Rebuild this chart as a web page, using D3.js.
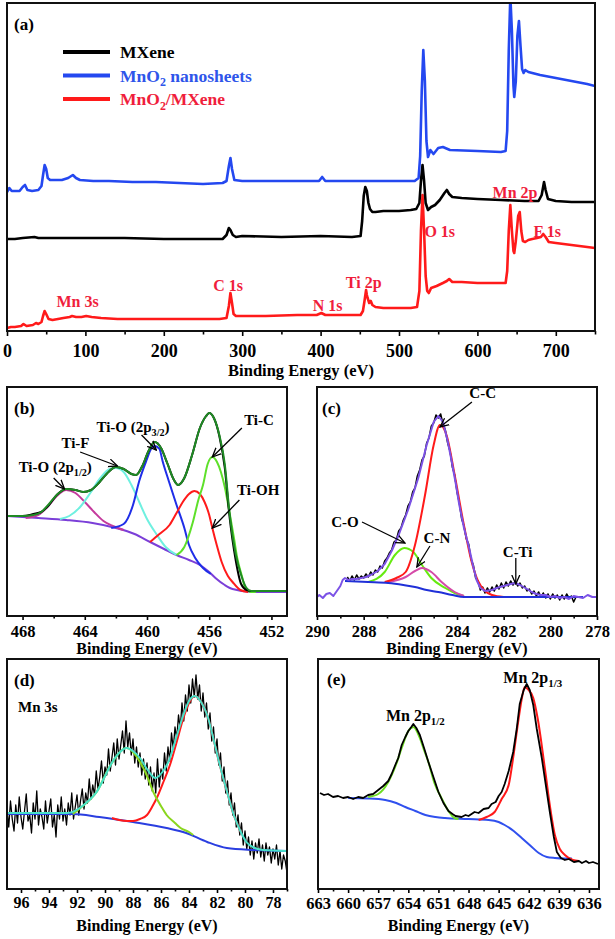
<!DOCTYPE html>
<html lang="en">
<head>
<meta charset="UTF-8" />
<title>XPS spectra</title>
<style>
  body { margin: 0; background: #fff; }
  svg { display: block; }
  text { font-family: "Liberation Serif", "Times New Roman", serif; font-weight: bold; }
</style>
</head>
<body>
<script src="https://cdn.jsdelivr.net/npm/d3@7"></script>
<script>
// ---- (a) survey spectra : [binding energy eV, intensity a.u.]
const surveyMXene = [[0,92],[10,92],[20,93],[35,94],[40,93],[60,93],[100,93],[150,93],[200,92],[250,92],[275,92],[280,96],[283,103],[285,101],[288,96],[292,94],[300,95],[350,94],[400,95],[440,94],[451,95],[453,110],[455,135],[457,144],[459,140],[461,128],[463,122],[466,119],[470,119],[480,120],[500,120],[515,121],[522,122],[526,128],[528,150],[530,166],[532,150],[534,128],[537,121],[541,124],[546,126],[552,131],[558,138],[561,141],[564,137],[568,134],[580,133],[600,132],[630,131],[660,130],[678,130],[682,136],[685,149],[687,141],[690,132],[700,130],[720,129],[750,129]];
const surveyMnO2 = [[0,139],[3,143],[6,140],[10,140],[16,140],[20,144],[23,146],[26,141],[32,140],[40,141],[44,145],[46,156],[48,166],[50,162],[52,153],[55,151],[60,151],[70,151],[78,153],[84,156],[88,153],[93,151],[110,150],[130,150],[160,149],[190,149],[220,148],[250,147],[275,148],[280,150],[283,165],[285,173],[287,162],[290,151],[300,150],[330,150],[370,150],[398,150],[402,154],[406,150],[450,150],[500,150],[520,150],[525,153],[527,175],[529,240],[531,281],[533,250],[535,190],[537,174],[540,181],[544,177],[550,183],[556,184],[565,181],[600,180],[630,179],[636,180],[638,200],[640,280],[642,335],[644,300],[646,245],[647,234],[649,250],[651,295],[653,310],[655,285],[657,262],[659,258],[661,261],[665,259],[680,256],[700,253],[720,250],[740,247],[750,245]];
const surveyComposite = [[0,3],[5,4],[10,4],[18,5],[21,7],[25,5],[33,6],[37,8],[40,7],[44,9],[46,15],[48,20],[50,17],[53,12],[58,11],[65,12],[72,13],[80,14],[83,15],[88,14],[95,14],[101,15],[108,14],[120,13],[141,12],[180,12],[220,12],[250,12],[271,12],[280,13],[283,25],[285,38],[287,28],[289,17],[292,15],[300,15],[330,15],[370,16],[395,16],[401,18],[406,16],[430,16],[451,16],[454,20],[456,30],[458,41],[459,36],[460,33],[462,28],[464,30],[466,26],[470,24],[480,23],[500,23],[515,23],[523,24],[526,40],[528,100],[530,136],[532,100],[534,55],[536,40],[538,38],[541,43],[548,45],[556,48],[561,50],[564,52],[568,49],[580,49],[600,48],[620,48],[636,48],[638,60],[640,100],[642,126],[644,100],[646,80],[647,78],[649,90],[652,115],[654,119],[656,100],[658,90],[661,89],[665,91],[670,92],[676,93],[681,94],[684,97],[687,94],[691,89],[700,88],[720,86],[740,84],[750,83]];
const surveyTicks = [0,100,200,300,400,500,600,700];
const surveyMinor = [50,150,250,350,450,550,650,750];
const surveyPeaks = [
  {text: "Mn 3s", at: [90, 30]}, {text: "C 1s", at: [282, 46]}, {text: "N 1s", at: [409, 26]},
  {text: "Ti 2p", at: [455, 49]}, {text: "O 1s", at: [552, 100]}, {text: "Mn 2p", at: [648, 139]},
  {text: "F 1s", at: [689, 100]}
];

// ---- (b) Ti 2p
const ti2pData = [[469,100],[468,100],[467.3,102],[466.8,104],[466.3,111],[465.8,121],[465.2,127],[464.6,126],[464.1,124],[463.6,126],[463.1,133],[462.6,142],[462.0,149],[461.5,147],[461.0,142],[460.7,141],[460.3,150],[459.9,165],[459.5,174],[459.1,168],[458.7,153],[458.3,137],[458.0,131],[457.6,138],[457.1,161],[456.6,188],[456.2,200],[456.0,203],[455.7,198],[455.35,180],[455.0,148],[454.7,100],[454.3,56],[453.95,32],[453.6,26],[453.3,25],[452.5,25],[451,25]];
const ti2pEnvelope = [[469,100],[468,100],[467.3,101],[466.8,104],[466.3,112],[465.8,121],[465.2,127],[464.6,126],[464.1,124],[463.6,126],[463.1,133],[462.6,142],[462.0,149],[461.5,147],[461.0,142],[460.7,141],[460.3,150],[459.9,165],[459.5,174],[459.1,168],[458.7,153],[458.3,137],[458.0,131],[457.6,138],[457.1,161],[456.6,188],[456.2,200],[456.0,203],[455.7,198],[455.35,181],[455.0,152],[454.7,104],[454.3,62],[453.95,41],[453.6,28],[453.3,25],[452.5,25],[451,25]];
const ti2pBackground = [[469,100],[467,98],[465.2,96],[463.5,93],[462.0,88],[460.8,82],[459.8,74],[458.9,67],[458.1,61],[457.3,56],[456.6,51],[456.0,44],[455.6,38],[455.0,31],[454.5,27],[453.2,24],[451,24]];
const tiO12 = [[467.8,98],[467.0,101],[466.4,109],[465.8,120],[465.2,126],[464.6,123],[464.0,114],[463.4,104],[462.8,95],[462.2,90],[461.5,86]];
const tiF = [[465.6,97],[465.0,100],[464.3,109],[463.6,124],[463.0,138],[462.4,147],[462.0,148],[461.5,144],[461.0,131],[460.5,114],[460.0,97],[459.4,82],[458.8,69],[458.1,61]];
const tiO32 = [[462.3,88],[461.5,92],[460.9,111],[460.5,135],[460.05,155],[459.7,168],[459.5,170],[459.2,167],[459.0,155],[458.6,135],[458.1,111],[457.6,88],[457.3,71],[456.9,58],[456.4,48],[455.9,42]];
const tiOH = [[459.8,74],[459.2,82],[458.55,91],[458.1,103],[457.7,114],[457.3,122],[456.95,125],[456.6,122],[456.3,114],[456.0,101],[455.8,88],[455.5,70],[455.2,54],[454.8,40],[454.5,34],[454.0,26],[453.5,24]];
const tiC = [[458.1,61],[457.6,69],[457.05,94],[456.7,116],[456.4,131],[456.1,152],[455.8,159],[455.5,154],[455.25,144],[455.0,129],[454.7,104],[454.4,77],[454.2,58],[453.9,40],[453.7,29],[453.3,24],[453.0,24]];
const ti2pTicks = [468,464,460,456,452];
const ti2pMinor = [466,462,458,454];
const ti2pLabels = [
  {parts: [["Ti-O (2p"],["1/2","sub"],[")"]], at: [465.9,149], from: [466.0,138], to: [465.3,127]},
  {parts: [["Ti-F"]], at: [464.6,173], from: [464.3,164], to: [461.9,150]},
  {parts: [["Ti-O (2p"],["3/2","sub"],[")"]], at: [460.9,189], from: [460.35,181], to: [459.4,166]},
  {parts: [["Ti-C"]], at: [452.8,196], from: [453.9,188], to: [455.8,159]},
  {parts: [["Ti-OH"]], at: [452.85,126], from: [454.06,116], to: [455.8,88]}
];

// ---- (c) C 1s
const c1sStart = 288.7, c1sStep = -0.1;
const c1sCounts = [39,35,40,36,41,37,40,38,42,39,44,41,46,44,50,48,55,58,63,66,74,76,85,88,96,101,110,114,124,128,140,146,156,160,173,178,190,193,201,198,202,192,186,173,165,149,141,124,113,97,90,77,72,57,51,38,35,26,29,23,28,24,29,25,31,27,33,28,34,30,35,31,35,30,33,28,30,25,27,22,25,20,24,19,23,18,22,17,22,18,21,16,21,17,22,18,20,14,19];
const c1sEnvelope = [[290,19],[289.9,21],[289.75,18],[289.6,22],[289.45,23],[289.3,20],[289.15,25],[289.0,30],[288.9,36],[288.8,38],[288.65,36],[288.5,37],[288.3,37],[288.1,38],[287.9,39],[287.7,41],[287.4,45],[287.1,52],[286.8,65],[286.5,81],[286.1,106],[285.66,138],[285.3,171],[285.0,194],[284.8,200],[284.6,194],[284.4,175],[284.23,155],[284.05,132],[283.9,111],[283.7,88],[283.5,70],[283.3,49],[283.16,36],[283.0,28],[282.8,25],[282.5,26],[282.3,28],[282.0,30],[281.7,32],[281.5,33],[281.3,31],[281.0,27],[280.8,24],[280.6,22],[280.4,21],[280.2,21],[280.0,19],[279.8,20],[279.6,18],[279.4,19],[279.2,17],[279.0,20],[278.8,19],[278.6,18],[278.4,21],[278.2,19],[278,19]];
const c1sBackground = [[288.8,35],[287.8,34],[286.95,33],[286.3,31],[285.8,29],[285.3,26],[284.8,24],[284.2,21],[283.7,19],[283.0,19],[278.6,19]];
const cC = [[287.1,34],[286.6,38],[286.2,44],[285.8,71],[285.37,121],[285.0,171],[284.73,191],[284.45,181],[284.1,141],[283.73,94],[283.37,54],[283.1,35],[282.8,25],[282.5,21],[282.0,19]];
const cO = [[287.8,34],[287.1,44],[286.66,61],[286.26,68],[285.87,64],[285.5,51],[285.1,38],[284.5,28],[284.1,23],[283.7,20]];
const cN = [[286.95,34],[286.2,39],[285.8,45],[285.5,48],[285.1,44],[284.66,34],[284.1,24],[283.7,20]];
const c1sTicks = [290,288,286,284,282,280,278];
const c1sMinor = [289,287,285,283,281,279];
const c1sLabels = [
  {parts: [["C-C"]], at: [282.9,223], from: [283.36,214], to: [284.73,189]},
  {parts: [["C-O"]], at: [288.8,94], from: [288.07,94], to: [286.23,73]},
  {parts: [["C-N"]], at: [284.86,78], from: [285.16,70], to: [285.72,49]},
  {parts: [["C-Ti"]], at: [281.4,64], from: [281.48,58], to: [281.48,32]}
];

// ---- (d) Mn 3s
const mn3sStart = 97, mn3sStep = -0.125;
const mn3sCounts = [80,62,88,70,58,84,66,92,72,60,78,95,68,74,56,86,70,98,64,80,72,60,88,66,78,90,62,74,52,84,70,92,68,80,64,86,74,96,70,82,94,74,88,100,80,96,86,110,90,104,94,118,100,112,128,106,122,114,140,118,132,146,124,150,130,144,158,136,168,142,156,134,150,126,142,122,136,114,130,110,126,104,122,98,116,96,130,102,120,110,136,118,142,128,156,140,162,150,174,160,186,168,194,178,204,186,210,192,214,190,204,178,196,172,186,160,176,148,162,136,150,124,136,108,122,96,108,84,96,74,86,62,74,54,66,44,58,40,52,34,48,30,46,36,50,32,44,28,46,34,42,26,40,30,44,24,38,20,34,28,16];
const mn3sEnvelope = [[97,76],[94,76],[92.7,76],[91.8,81],[91.2,88],[90.6,97],[90.1,110],[89.6,124],[89.0,136],[88.45,141],[88.0,138],[87.5,131],[87.0,120],[86.4,111],[85.9,117],[85.36,131],[84.9,152],[84.4,174],[84.0,188],[83.57,193],[83.1,186],[82.7,174],[82.2,147],[81.8,124],[81.3,98],[80.8,74],[80.3,57],[79.9,47],[79.3,41],[78.7,39],[77,38]];
const mn3sBackground = [[97,75],[92.3,75],[90.4,72],[88,67],[85.6,61],[84.2,56],[82.7,47],[81.3,41],[79.4,39],[77,38]];
const mn3sHigh = [[92.3,75],[91.5,84],[90.6,97],[89.6,124],[88.45,141],[87.5,127],[87.0,113],[86.55,97],[86.0,83],[85.6,74],[85.0,66],[84.6,61],[84.0,57],[83.7,54]];
const mn3sLow = [[89.5,71],[89.0,69],[88.4,68],[88.0,68],[87.5,70],[87.0,74],[86.6,83],[86.3,91],[85.8,108],[85.36,124],[84.9,146],[84.4,171],[84.0,186],[83.57,193],[83.1,186],[82.7,174],[82.2,147],[81.8,124],[81.3,98],[80.8,74],[80.3,57]];
const mn3sTicks = [96,94,92,90,88,86,84,82,80,78];
const mn3sMinor = [95,93,91,89,87,85,83,81,79,77];

// ---- (e) Mn 2p
const mn2pData = [[662.8,96],[662.4,94],[662,95],[661.5,92],[661,93],[660.5,91],[660,92],[659.5,90],[659,92],[658.5,91],[658,94],[657.5,95],[657,99],[656.5,103],[656,108],[655.66,115],[655.3,124],[655,131],[654.66,144],[654.3,152],[654,158],[653.7,162],[653.5,165],[653.2,161],[652.85,154],[652.4,140],[652,127],[651.5,112],[651,97],[650.5,86],[650,78],[649.6,75],[649.3,73],[648.7,72],[648.3,74],[648,73],[647.4,77],[647,76],[646.5,80],[646,81],[645.7,85],[645.3,87],[645,93],[644.7,97],[644.4,105],[644,118],[643.55,137],[643.2,160],[642.9,185],[642.5,199],[642.2,205],[641.9,199],[641.55,184],[641.2,160],[640.7,131],[640.3,104],[639.9,77],[639.5,52],[639.2,37],[638.8,31],[638.4,29],[638,30],[637.5,27],[637,28],[636.7,26],[636.3,28],[636,26],[635.6,27],[635.1,25]];
const mn2pBackground = [[660,91],[658,90.5],[656.3,89],[655.2,86],[654.3,82],[653.3,78],[652.3,74],[651.3,72],[650.35,71],[648,70],[646,69],[645,67],[644.4,64],[643.5,58],[642.7,51],[641.8,43],[641,36],[640.2,32],[639.4,31],[638.5,30.5],[637.7,30.5]];
const mn2p12 = [[658,92],[657,95],[656,107],[655.2,125],[654.66,141],[654.0,158],[653.5,162],[652.85,151],[652.4,138],[652,127],[651.4,106],[650.7,91],[650,78],[649.4,71],[649,70]];
const mn2p32 = [[647,69],[646.2,72],[645.4,77],[644.7,90],[644,104],[643.5,135],[643,171],[642.7,190],[642.4,202],[642.1,200],[641.55,191],[641.1,170],[640.4,121],[639.8,77],[639.4,54],[638.9,40],[638.4,34],[637.6,29],[637,28]];
const mn2pTicks = [663,660,657,654,651,648,645,642,639,636];
const mn2pMinor = [661.5,658.5,655.5,652.5,649.5,646.5,643.5,640.5,637.5];
const mn2pLabels = [
  {parts: [["Mn 2p"],["1/2","sub"]], at: [653.3,174]},
  {parts: [["Mn 2p"],["1/3","sub"]], at: [641.6,212]}
];

// ---------------------------------------------------------------
const FONT = '"Liberation Serif", "Times New Roman", serif';
const svg = d3.select("body").append("svg").attr("width", 615).attr("height", 939)
  .attr("font-family", FONT).attr("font-weight", "bold");

const defs = svg.append("defs");
defs.append("marker").attr("id", "arrow")
  .attr("viewBox", "0 0 10 10").attr("refX", 9).attr("refY", 5)
  .attr("markerWidth", 10).attr("markerHeight", 10)
  .attr("markerUnits", "userSpaceOnUse").attr("orient", "auto")
  .append("path").attr("d", "M0,1 L9,5 L0,9").attr("fill", "none")
  .attr("stroke", "#000").attr("stroke-width", 1.3);

function makePanel(p) {
  const x = d3.scaleLinear().domain(p.domain).range([p.left, p.right]);
  const y = d3.scaleLinear().domain([0, p.bottom - p.top]).range([p.bottom, p.top]);
  const g = svg.append("g");
  defs.append("clipPath").attr("id", "clip-" + p.id).append("rect")
    .attr("x", p.left).attr("y", p.top)
    .attr("width", p.right - p.left).attr("height", p.bottom - p.top);
  const plot = g.append("g").attr("clip-path", `url(#clip-${p.id})`);

  g.append("g").attr("transform", `translate(0,${p.bottom})`)
    .call(d3.axisBottom(x).tickValues(p.minor).tickSize(p.tick - 1.5).tickFormat(""));
  const major = g.append("g").attr("transform", `translate(0,${p.bottom})`)
    .call(d3.axisBottom(x).tickValues(p.major).tickSize(p.tick).tickPadding(p.pad).tickFormat(d3.format("d")));
  g.selectAll(".domain").remove();
  g.selectAll(".tick line").attr("stroke", "#000").attr("stroke-width", 1.6);
  g.selectAll("g").attr("font-family", FONT);
  major.attr("font-size", p.fs);
  major.selectAll("text").attr("fill", "#000").attr("font-family", FONT)
    .attr("font-weight", "bold").attr("font-size", p.fs);

  g.append("rect").attr("x", p.left).attr("y", p.top)
    .attr("width", p.right - p.left).attr("height", p.bottom - p.top)
    .attr("fill", "none").attr("stroke", "#111").attr("stroke-width", 2);

  g.append("text").attr("x", (p.left + p.right) / 2).attr("y", p.titleY)
    .attr("text-anchor", "middle").attr("font-size", p.tfs).text("Binding Energy (eV)");
  g.append("text").attr("x", p.tagX).attr("y", p.tagY)
    .attr("font-size", 17).text(p.tag);
  return {x, y, plot, g};
}

function drawLine(P, data, color, width, curve) {
  P.plot.append("path").datum(data)
    .attr("fill", "none").attr("stroke", color).attr("stroke-width", width)
    .attr("stroke-linejoin", "round")
    .attr("d", d3.line().x(d => P.x(d[0])).y(d => P.y(d[1])).curve(curve || d3.curveMonotoneX));
}

function richText(parent, x, y, parts, size, color, anchor) {
  const t = parent.append("text").attr("x", x).attr("y", y)
    .attr("font-size", size).attr("fill", color || "#000")
    .attr("text-anchor", anchor || "middle");
  parts.forEach(pt => {
    if (pt[1] === "sub") {
      t.append("tspan").attr("font-size", size * 0.68).attr("dy", size * 0.28).text(pt[0]);
    } else {
      const s = t.append("tspan").text(pt[0]);
      if (t.selectAll("tspan").size() > 1) s.attr("dy", -size * 0.28);
    }
  });
  return t;
}

function annotate(P, list, size) {
  list.forEach(a => {
    richText(P.g, P.x(a.at[0]), P.y(a.at[1]) + size * 0.35, a.parts, size);
    if (a.from) {
      P.g.append("line")
        .attr("x1", P.x(a.from[0])).attr("y1", P.y(a.from[1]))
        .attr("x2", P.x(a.to[0])).attr("y2", P.y(a.to[1]))
        .attr("stroke", "#000").attr("stroke-width", 1.3)
        .attr("marker-end", "url(#arrow)");
    }
  });
}

const onGrid = (start, step, counts) => counts.map((v, i) => [start + i * step, v]);

// (a)
const A = makePanel({id: "a", left: 7, right: 595, top: 3, bottom: 331, domain: [0, 750],
  major: surveyTicks, minor: surveyMinor, tick: 5, pad: 8, fs: 18, tfs: 16.5, titleY: 376,
  tag: "(a)", tagX: 14, tagY: 30});
drawLine(A, surveyComposite, "#ff1a1a", 2.6, d3.curveLinear);
drawLine(A, surveyMXene, "#000", 2.6, d3.curveLinear);
drawLine(A, surveyMnO2, "#2448f0", 2.6, d3.curveLinear);
surveyPeaks.forEach(s => {
  A.g.append("text").attr("x", A.x(s.at[0])).attr("y", A.y(s.at[1]) + 5.5)
    .attr("text-anchor", "middle").attr("font-size", 16).attr("fill", "#f01e3c").text(s.text);
});
const legend = [
  {parts: [["MXene"]], color: "#000", text: "#000"},
  {parts: [["MnO"],["2","sub"],[" nanosheets"]], color: "#2448f0", text: "#2e55ea"},
  {parts: [["MnO"],["2","sub"],["/MXene"]], color: "#ff1a1a", text: "#f01e3c"}
];
legend.forEach((l, i) => {
  const yy = 52 + i * 23.5;
  A.g.append("line").attr("x1", 63).attr("x2", 110).attr("y1", yy).attr("y2", yy)
    .attr("stroke", l.color).attr("stroke-width", 4);
  richText(A.g, 120, yy + 6, l.parts, 17.5, l.text, "start");
});

// (b)
const B = makePanel({id: "b", left: 7, right: 287, top: 387, bottom: 616, domain: [469, 451],
  major: ti2pTicks, minor: ti2pMinor, tick: 4, pad: 5, fs: 16.5, tfs: 16, titleY: 654,
  tag: "(b)", tagX: 14, tagY: 414});
drawLine(B, ti2pBackground, "#7b3fd8", 2);
drawLine(B, tiO12, "#c43a9c", 2);
drawLine(B, tiF, "#6ff0e0", 2);
drawLine(B, tiO32, "#1f2ee8", 2);
drawLine(B, tiOH, "#ff1a1a", 2);
drawLine(B, tiC, "#5ee02a", 2);
drawLine(B, ti2pData, "#000", 2);
drawLine(B, ti2pEnvelope, "#1f8a24", 2);
annotate(B, ti2pLabels, 15);

// (c)
const C = makePanel({id: "c", left: 317, right: 597, top: 387, bottom: 616, domain: [290, 278],
  major: c1sTicks, minor: c1sMinor, tick: 4, pad: 5, fs: 16.5, tfs: 16, titleY: 654,
  tag: "(c)", tagX: 322, tagY: 414});
drawLine(C, onGrid(c1sStart, c1sStep, c1sCounts), "#000", 1.5, d3.curveLinear);
drawLine(C, cO, "#66ea10", 2);
drawLine(C, cN, "#d54aa8", 2);
drawLine(C, cC, "#ff1a1a", 2);
drawLine(C, c1sBackground, "#2030d8", 2);
drawLine(C, c1sEnvelope, "#7b52e6", 2, d3.curveLinear);
annotate(C, c1sLabels, 15);

// (d)
const D = makePanel({id: "d", left: 7, right: 287, top: 659, bottom: 889, domain: [97, 77],
  major: mn3sTicks, minor: mn3sMinor, tick: 4, pad: 4, fs: 16, tfs: 16, titleY: 931,
  tag: "(d)", tagX: 14, tagY: 686});
drawLine(D, onGrid(mn3sStart, mn3sStep, mn3sCounts), "#000", 1.3, d3.curveLinear);
drawLine(D, mn3sBackground, "#2a3ee0", 2);
drawLine(D, mn3sLow, "#ff1a1a", 2);
drawLine(D, mn3sHigh, "#8ad61e", 2);
drawLine(D, mn3sEnvelope, "#48e0c8", 2);
D.g.append("text").attr("x", 18).attr("y", 712).attr("font-size", 15).text("Mn 3s");

// (e)
const E = makePanel({id: "e", left: 318, right: 599, top: 659, bottom: 889, domain: [663, 635],
  major: mn2pTicks, minor: mn2pMinor, tick: 4, pad: 4, fs: 16.5, tfs: 16, titleY: 931,
  tag: "(e)", tagX: 327, tagY: 685});
drawLine(E, mn2pBackground, "#3050ee", 2);
drawLine(E, mn2p12, "#6ede22", 2);
drawLine(E, mn2p32, "#ff1a1a", 2);
drawLine(E, mn2pData, "#000", 1.8, d3.curveLinear);
annotate(E, mn2pLabels, 16);
</script>
</body>
</html>
